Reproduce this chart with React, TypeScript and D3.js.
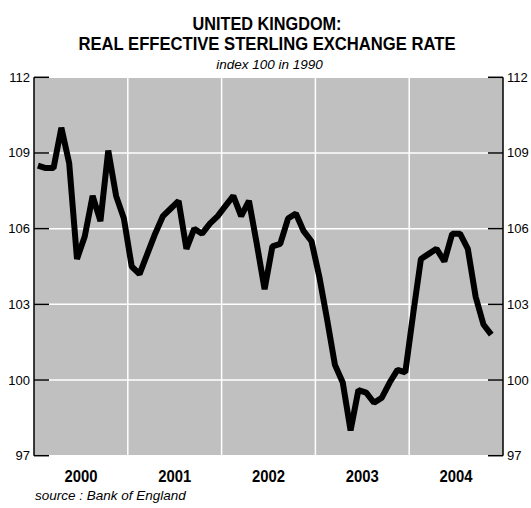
import React from "react";
import * as d3 from "d3";

const years = ["2000", "2001", "2002", "2003", "2004"];
const yTicks = [97, 100, 103, 106, 109, 112];
// Monthly values, Jan 2000 .. Nov 2004
const values = [
  108.5, 108.4, 108.4, 110.0, 108.6, 104.8, 105.7, 107.3, 106.3, 109.1, 107.3, 106.4,
  104.5, 104.2, 105.0, 105.8, 106.5, 106.8, 107.1, 105.2, 106.0, 105.8, 106.2, 106.5,
  106.9, 107.3, 106.5, 107.1, 105.4, 103.6, 105.3, 105.4, 106.4, 106.6, 105.9, 105.5,
  104.1, 102.4, 100.6, 99.9, 98.0, 99.6, 99.5, 99.1, 99.3, 99.9, 100.4, 100.3,
  102.6, 104.8, 105.0, 105.2, 104.7, 105.8, 105.8, 105.2, 103.3, 102.2, 101.8,
];
const titleLines = ["UNITED KINGDOM:", "REAL EFFECTIVE STERLING EXCHANGE RATE"];
const subtitle = "index 100 in 1990";
const source = "source : Bank of England";

const W = 531;
const H = 508;
const L = 34;
const R = 503;
const T = 77.3;
const B = 455.7;

export default function App() {
  React.useEffect(() => {
    document.body.style.margin = "0";
  }, []);
  const x = d3.scaleLinear().domain([0, years.length * 12]).range([L, R]);
  const y = d3.scaleLinear().domain([97, 112]).range([B, T]);
  const line = d3
    .line<number>()
    .x((_, i) => x(i + 0.5))
    .y((d) => y(d));
  const font = "'Liberation Sans', Arial, Helvetica, sans-serif";
  return (
    <svg
      width={W}
      height={H}
      style={{ position: "absolute", left: 0, top: 0, display: "block", background: "#fff" }}
      fontFamily={font}
    >
      <text x={267} y={30} textAnchor="middle" fontWeight="bold" fontSize={18.5} textLength={149} lengthAdjust="spacingAndGlyphs">
        {titleLines[0]}
      </text>
      <text x={267} y={50} textAnchor="middle" fontWeight="bold" fontSize={18.5} textLength={377} lengthAdjust="spacingAndGlyphs">
        {titleLines[1]}
      </text>
      <text x={269.5} y={68.5} textAnchor="middle" fontStyle="italic" fontSize={13.5}>
        {subtitle}
      </text>
      <rect x={L} y={T} width={R - L} height={B - T} fill="#c0c0c0" />
      {yTicks.map((t) => (
        <line key={"h" + t} x1={L} x2={R} y1={y(t)} y2={y(t)} stroke="#fff" strokeWidth={1.5} />
      ))}
      {d3.range(1, years.length).map((k) => (
        <line key={"v" + k} x1={x(k * 12)} x2={x(k * 12)} y1={T} y2={B} stroke="#fff" strokeWidth={1.5} />
      ))}
      <line x1={L} x2={L} y1={T} y2={B} stroke="#000" strokeWidth={1.5} />
      <line x1={R} x2={R} y1={T} y2={B} stroke="#000" strokeWidth={1.5} />
      {yTicks.map((t) => (
        <g key={"t" + t}>
          <line x1={L} x2={L + 15} y1={y(t)} y2={y(t)} stroke="#000" strokeWidth={1.5} />
          <line x1={R - 15} x2={R} y1={y(t)} y2={y(t)} stroke="#000" strokeWidth={1.5} />
          <text x={L - 4} y={y(t) + 4.5} textAnchor="end" fontSize={13}>
            {t}
          </text>
          <text x={R + 4} y={y(t) + 4.5} textAnchor="start" fontSize={13}>
            {t}
          </text>
        </g>
      ))}
      <path d={line(values) || ""} fill="none" stroke="#000" strokeWidth={6} strokeLinejoin="bevel" />
      {years.map((yr, k) => (
        <text key={yr} x={x(k * 12 + 6)} y={482} textAnchor="middle" fontWeight="bold" fontSize={16} textLength={33} lengthAdjust="spacingAndGlyphs">
          {yr}
        </text>
      ))}
      <text x={35} y={500} fontStyle="italic" fontSize={13.5}>
        {source}
      </text>
    </svg>
  );
}
